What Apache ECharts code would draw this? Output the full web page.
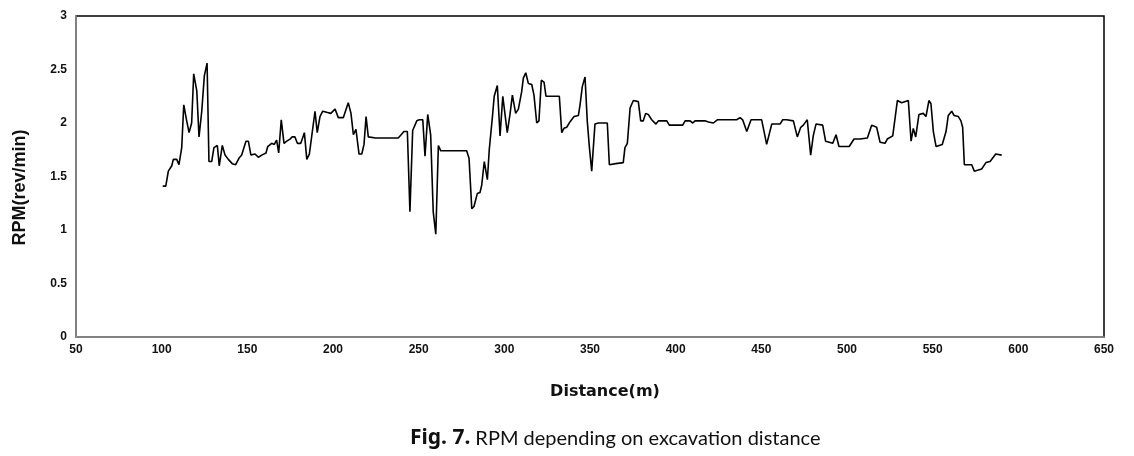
<!DOCTYPE html>
<html>
<head>
<meta charset="utf-8">
<script src="https://cdn.jsdelivr.net/npm/echarts@6/dist/echarts.min.js"></script>
<style>html,body{margin:0;padding:0;background:#fff;}#chart{width:1134px;height:456px;}</style>
</head>
<body>
<div id="chart"></div>
<script>
var distance = [100.6,102.4,103.9,105.9,106.8,108.8,110.1,111.7,112.9,114.6,116.0,117.5,118.7,120.5,121.8,123.4,124.9,126.5,127.6,129.2,130.5,132.5,133.6,135.4,137.0,138.9,141.2,143.2,145.1,146.7,149.2,150.6,152.1,154.5,156.4,158.4,160.9,161.9,164.2,165.7,167.1,168.3,169.8,171.4,173.0,174.9,176.2,177.8,179.2,181.2,183.3,184.7,186.2,189.5,190.8,192.4,194.0,196.3,198.7,201.2,203.1,206.0,208.9,210.5,211.9,213.4,215.2,216.8,218.1,219.3,220.6,225,230,235,238.1,239.1,241.4,243.4,244.9,246.5,248.9,250.4,252.4,253.7,255.3,257.0,258.5,260.0,261.5,262.9,268,273,278.0,279.4,281.0,282.3,284.2,285.8,286.8,288.3,290.1,291.2,293.0,294.1,295.9,297.5,299.1,301.7,303.3,304.7,306.6,308.2,310.1,311.1,312.5,314.0,316.0,317.3,318.9,320.2,321.6,323.2,324.3,328,332.1,333.5,334.8,336.4,338.3,340.7,343.2,344.2,345.5,347.1,348.4,349.6,351.0,352.9,354.9,360.1,361.3,365,369.4,370.4,371.8,373.4,375.3,378.2,379.6,381.1,382.5,384.0,386.0,388.5,389.9,394.8,396.3,404.1,405.5,408.4,410.0,411.3,417.1,419.1,422.0,424.3,435.6,437.6,439.1,441.5,444.0,450.2,453.1,456.1,460.9,462.5,464.8,468.7,469.7,471.0,473.0,474.5,476.8,478.8,480.3,481.9,485.8,487.5,491.7,493.6,495.3,501.3,504.1,507.6,511.9,514.4,517.3,519.3,522.2,523.5,526.7,529.4,531.9,535.8,537.4,538.7,540.1,542.0,544.5,546.1,547.8,549.0,550.4,552.0,555.6,557.8,559.1,561.1,562.5,565.0,566.5,567.5,568.5,572.8,574.3,578.6,581.1,583.5,586.8,590.3];
var rpm = [1.41,1.41,1.55,1.60,1.66,1.66,1.61,1.77,2.17,2.02,1.91,2.00,2.46,2.30,1.87,2.11,2.44,2.56,1.64,1.64,1.77,1.79,1.60,1.79,1.70,1.66,1.62,1.61,1.67,1.70,1.83,1.83,1.70,1.71,1.68,1.70,1.72,1.78,1.81,1.80,1.84,1.72,2.03,1.81,1.83,1.85,1.87,1.87,1.81,1.81,1.91,1.66,1.71,2.11,1.91,2.06,2.11,2.10,2.09,2.13,2.05,2.05,2.19,2.09,1.89,1.94,1.71,1.71,1.80,2.06,1.87,1.86,1.86,1.86,1.86,1.85,1.92,1.92,1.17,1.93,2.02,2.03,2.03,1.69,2.08,1.89,1.17,0.96,1.79,1.74,1.74,1.74,1.74,1.67,1.20,1.22,1.34,1.35,1.42,1.64,1.47,1.75,2.05,2.25,2.35,1.88,2.25,1.91,2.08,2.26,2.09,2.13,2.29,2.42,2.47,2.37,2.36,2.26,2.00,2.02,2.40,2.38,2.25,2.25,2.25,1.91,1.95,1.96,2.01,2.06,2.07,2.17,2.34,2.43,2.02,1.78,1.55,1.99,2.00,2.00,1.61,1.62,1.63,1.77,1.81,2.14,2.21,2.20,2.02,2.02,2.09,2.08,2.03,1.99,2.02,2.02,1.98,1.98,2.02,2.02,2.00,2.02,2.02,2.01,2.00,2.03,2.03,2.05,2.03,1.92,2.03,2.03,1.80,1.99,1.99,2.03,2.03,2.02,2.01,1.87,1.96,1.98,2.03,1.70,1.88,1.99,1.98,1.83,1.81,1.89,1.78,1.78,1.85,1.85,1.86,1.98,1.96,1.82,1.81,1.85,1.88,2.21,2.19,2.21,1.83,1.95,1.87,2.08,2.09,2.06,2.21,2.18,1.92,1.78,1.80,1.92,2.07,2.11,2.07,2.06,2.02,1.96,1.61,1.61,1.55,1.57,1.63,1.64,1.71,1.70];

var xAxisName = 'Distance(m)';
var yAxisName = 'RPM(rev/min)';
var captionBold = 'Fig. 7.';
var captionText = 'RPM depending on excavation distance';

var points = distance.map(function (d, i) { return [d, rpm[i]]; });

var chart = echarts.init(document.getElementById('chart'), null, {renderer: 'canvas'});
chart.setOption({
  animation: false,
  backgroundColor: '#ffffff',
  title: {
    text: '{b|' + captionBold + '} {n|' + captionText + '}',
    left: 405,
    top: 423,
    textStyle: {
      rich: {
        b: {fontFamily: 'Noto Sans', fontWeight: 'bold', fontSize: 21, color: '#111'},
        n: {fontFamily: 'Lato', fontWeight: 'normal', fontSize: 20, color: '#111'}
      }
    }
  },
  grid: {
    left: 76, right: 30, top: 16, bottom: 119,
    show: true, borderColor: '#000', borderWidth: 1.5, backgroundColor: '#fff'
  },
  xAxis: {
    type: 'value', min: 50, max: 650, interval: 50,
    name: xAxisName, nameLocation: 'middle', nameGap: 47,
    nameTextStyle: {fontFamily: 'DejaVu Sans', fontWeight: 'bold', fontSize: 16, color: '#111', padding: [0, 0, 0, 30]},
    axisLine: {show: true, lineStyle: {color: '#999', width: 1.5}},
    axisTick: {show: false},
    splitLine: {show: false},
    axisLabel: {fontFamily: 'Liberation Sans', fontWeight: 'bold', fontSize: 12, color: '#111', margin: 7}
  },
  yAxis: {
    type: 'value', min: 0, max: 3, interval: 0.5,
    name: yAxisName, nameLocation: 'middle', nameGap: 47, nameRotate: 90,
    nameTextStyle: {fontFamily: 'Liberation Sans', fontWeight: 'bold', fontSize: 18, color: '#111', padding: [0, 22, 0, 0]},
    axisLine: {show: true, lineStyle: {color: '#999', width: 1.5}},
    axisTick: {show: false},
    splitLine: {show: false},
    axisLabel: {fontFamily: 'Liberation Sans', fontWeight: 'bold', fontSize: 12, color: '#111', margin: 9}
  },
  series: [{
    type: 'line',
    data: points,
    showSymbol: false,
    symbol: 'none',
    lineStyle: {color: '#000', width: 1.6},
    z: 3
  }]
});
</script>
</body>
</html>
